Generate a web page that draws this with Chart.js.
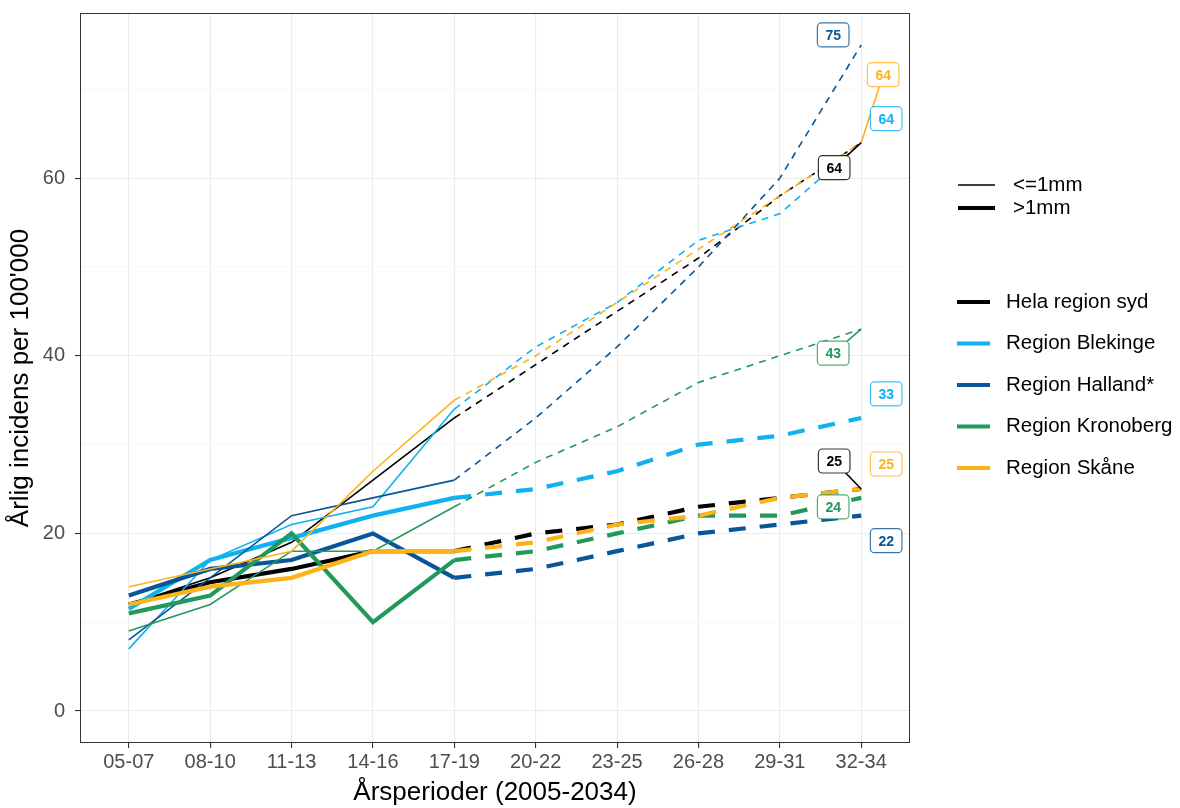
<!DOCTYPE html>
<html>
<head>
<meta charset="utf-8">
<script src="https://cdn.jsdelivr.net/npm/chart.js@4.4.1/dist/chart.umd.min.js"></script>
<style>
  html, body { margin: 0; padding: 0; background: #fff; }
  #wrap { width: 1180px; height: 808px; }
</style>
</head>
<body>
<div id="wrap"><canvas id="graf" width="1180" height="808"></canvas></div>
<script>
const perioder = ['05-07', '08-10', '11-13', '14-16', '17-19', '20-22', '23-25', '26-28', '29-31', '32-34'];
const regioner = ['Hela region syd', 'Region Blekinge', 'Region Halland*', 'Region Kronoberg', 'Region Skåne'];
const farger = ['#000000', '#10B1F0', '#0A5597', '#21995A', '#FDB218'];
const yTicks = [0, 10, 20, 30, 40, 50, 60, 70];

// <=1mm : de fem första perioderna observerade, resten prognos
const helaTunn = [12, 15, 19, 26, 33, 39, 45, 51, 58, 64];
const blekingeTunn = [7, 17, 21, 23, 34, 41, 46, 53, 56, 64];
const hallandTunn = [8, 15, 22, 24, 26, 33, 41, 50, 60, 75];
const kronobergTunn = [9, 12, 18, 18, 23, 28, 32, 37, 40, 43];
const skaneTunn = [14, 16, 18, 27, 35, 40, 46, 52, 58, 64];

// >1mm
const helaTjock = [12, 14.5, 16, 18, 18, 20, 21, 23, 24, 25];
const blekingeTjock = [11.5, 17, 19.5, 22, 24, 25, 27, 30, 31, 33];
const hallandTjock = [13, 16, 17, 20, 15, 16, 18, 20, 21, 22];
const kronobergTjock = [11, 13, 20, 10, 17, 18, 20, 22, 22, 24];
const skaneTjock = [12, 14, 15, 18, 18, 19, 21, 22, 24, 25];

const tunna = [helaTunn, blekingeTunn, hallandTunn, kronobergTunn, skaneTunn];
const tjocka = [helaTjock, blekingeTjock, hallandTjock, kronobergTjock, skaneTjock];
const SISTA_OBS = 4;

// etiketter vid sista perioden (förskjutning i pixlar från punkten)
const etiketter = [
    { data: hallandTunn, farg: 2, dx: -28, dy: -10, linje: false },
    { data: skaneTunn, farg: 4, dx: 22, dy: -68, linje: true },
    { data: blekingeTunn, farg: 1, dx: 25, dy: -24, linje: false },
    { data: helaTunn, farg: 0, dx: -27, dy: 25, linje: true },
    { data: kronobergTunn, farg: 3, dx: -28, dy: 24, linje: true },
    { data: blekingeTjock, farg: 1, dx: 25, dy: -24, linje: false },
    { data: skaneTjock, farg: 4, dx: 25, dy: -25, linje: false },
    { data: helaTjock, farg: 0, dx: -27, dy: -28, linje: true },
    { data: kronobergTjock, farg: 3, dx: -28, dy: 9, linje: false },
    { data: hallandTjock, farg: 2, dx: 25, dy: 25, linje: false }
];

const FONT = '"Liberation Sans", Arial, sans-serif';

function punkter(arr, fran, till) {
    const ut = [];
    for (let i = fran; i <= till; i++) ut.push({ x: i, y: arr[i] });
    return ut;
}

const datasets = [];
regioner.forEach((namn, r) => {
    const varianter = [
        { arr: tunna[r], bredd: 1.6, streck: [7, 6] },
        { arr: tjocka[r], bredd: 4.2, streck: [17, 14] }
    ];
    varianter.forEach(v => {
        datasets.push({
            label: namn, data: punkter(v.arr, 0, SISTA_OBS),
            borderColor: farger[r], borderWidth: v.bredd, pointRadius: 0, tension: 0, fill: false
        });
        datasets.push({
            label: namn, data: punkter(v.arr, SISTA_OBS, perioder.length - 1),
            borderColor: farger[r], borderWidth: v.bredd, borderDash: v.streck,
            pointRadius: 0, tension: 0, fill: false
        });
    });
});
datasets.forEach((d, i) => { d.order = -i; });

function alfa(hex, a) {
    const n = parseInt(hex.slice(1), 16);
    return `rgba(${(n >> 16) & 255}, ${(n >> 8) & 255}, ${n & 255}, ${a})`;
}

function rundRekt(ctx, x, y, w, h, r) {
    ctx.beginPath();
    ctx.moveTo(x + r, y);
    ctx.arcTo(x + w, y, x + w, y + h, r);
    ctx.arcTo(x + w, y + h, x, y + h, r);
    ctx.arcTo(x, y + h, x, y, r);
    ctx.arcTo(x, y, x + w, y, r);
    ctx.closePath();
}

const ritPlugin = {
    id: 'ritPlugin',
    afterDatasetsDraw(chart) {
        const { ctx, chartArea: ca, scales } = chart;
        ctx.save();
        ctx.strokeStyle = '#333333';
        ctx.lineWidth = 1;
        ctx.strokeRect(ca.left + 0.5, ca.top + 0.5, ca.right - ca.left - 1, ca.bottom - ca.top - 1);

        ctx.font = `bold 14px ${FONT}`;
        ctx.textAlign = 'center';
        ctx.textBaseline = 'middle';
        etiketter.forEach(e => {
            const v = e.data[e.data.length - 1];
            const px = scales.x.getPixelForValue(perioder.length - 1);
            const py = scales.y.getPixelForValue(v);
            const cx = px + e.dx, cy = py + e.dy;
            const text = String(v);
            const w = ctx.measureText(text).width + 16, h = 24;
            const farg = farger[e.farg];
            if (e.linje) {
                const ddx = px - cx, ddy = py - cy;
                const s = Math.min((w / 2) / Math.abs(ddx || 1e-6), (h / 2) / Math.abs(ddy || 1e-6));
                ctx.strokeStyle = farg;
                ctx.lineWidth = 1.6;
                ctx.beginPath();
                ctx.moveTo(cx + ddx * s, cy + ddy * s);
                ctx.lineTo(px, py);
                ctx.stroke();
            }
            rundRekt(ctx, cx - w / 2, cy - h / 2, w, h, 4);
            ctx.fillStyle = '#ffffff';
            ctx.fill();
            ctx.strokeStyle = alfa(farg, 0.8);
            ctx.lineWidth = 1.2;
            ctx.stroke();
            ctx.fillStyle = farg;
            ctx.fillText(text, cx, cy + 1);
        });
        ctx.restore();
    },
    afterDraw(chart) {
        const ctx = chart.ctx;
        ctx.save();
        ctx.textAlign = 'left';
        ctx.textBaseline = 'middle';
        ctx.font = `20.5px ${FONT}`;
        ctx.fillStyle = '#000000';
        ctx.strokeStyle = '#000000';
        // linjebredd
        [['<=1mm', 1.6, 185], ['>1mm', 4.2, 208]].forEach(([t, lw, y]) => {
            ctx.lineWidth = lw;
            ctx.beginPath();
            ctx.moveTo(958, y);
            ctx.lineTo(995, y);
            ctx.stroke();
            ctx.fillText(t, 1013, y);
        });
        // regioner
        regioner.forEach((namn, i) => {
            const y = 302 + i * 41.5;
            ctx.strokeStyle = farger[i];
            ctx.lineWidth = 4.2;
            ctx.beginPath();
            ctx.moveTo(957, y);
            ctx.lineTo(990, y);
            ctx.stroke();
            ctx.fillStyle = '#000000';
            ctx.fillText(namn, 1006, y);
        });
        ctx.restore();
    }
};

new Chart(document.getElementById('graf').getContext('2d'), {
    type: 'line',
    data: { datasets },
    plugins: [ritPlugin],
    options: {
        responsive: false,
        animation: false,
        devicePixelRatio: 1,
        layout: { padding: { top: 13, right: 270, left: 0, bottom: 0 } },
        plugins: { legend: { display: false }, tooltip: { enabled: false } },
        scales: {
            x: {
                type: 'linear',
                min: -0.6,
                max: perioder.length - 1 + 0.6,
                afterFit: s => { s.height = 65; s.paddingLeft = 0; s.paddingRight = 0; },
                afterBuildTicks: s => { s.ticks = perioder.map((p, i) => ({ value: i })); },
                grid: { color: '#EBEBEB', lineWidth: 1.1, tickLength: 5, tickColor: '#333333' },
                border: { display: false },
                ticks: {
                    autoSkip: false, maxRotation: 0, padding: 2,
                    color: '#4D4D4D', font: { family: FONT, size: 20 },
                    callback: v => perioder[v] ?? ''
                },
                title: {
                    display: true, text: 'Årsperioder (2005-2034)', color: '#000000',
                    font: { family: FONT, size: 26 }, padding: { top: 0, bottom: 0 }
                }
            },
            y: {
                type: 'linear',
                min: -3.6,
                max: 78.6,
                afterFit: s => { s.width = 80; s.paddingTop = 0; s.paddingBottom = 0; },
                afterBuildTicks: s => { s.ticks = yTicks.map(v => ({ value: v })); },
                grid: {
                    color: c => (c.tick && c.tick.value % 20 === 0) ? '#EBEBEB' : '#F4F4F4',
                    lineWidth: c => (c.tick && c.tick.value % 20 === 0) ? 1.1 : 0.7,
                    tickLength: 5,
                    tickColor: c => (c.tick && c.tick.value % 20 === 0) ? '#333333' : 'rgba(0,0,0,0)'
                },
                border: { display: false },
                ticks: {
                    padding: 10, color: '#4D4D4D', font: { family: FONT, size: 20 },
                    callback: v => (v % 20 === 0 ? String(v) : '')
                },
                title: {
                    display: true, text: "Årlig incidens per 100'000", color: '#000000',
                    font: { family: FONT, size: 26 }, padding: { top: 5, bottom: 0 }
                }
            }
        }
    }
});
</script>
</body>
</html>
